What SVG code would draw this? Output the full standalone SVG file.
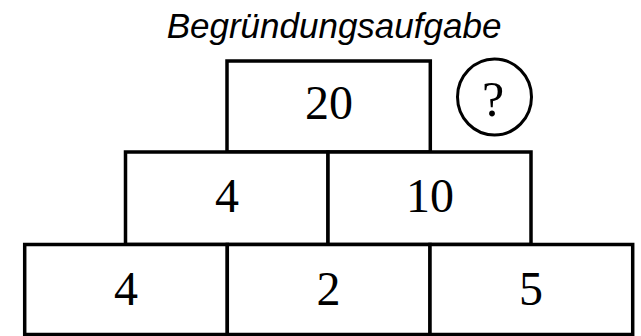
<svg xmlns="http://www.w3.org/2000/svg" width="641" height="336" viewBox="0 0 641 336">
<style>
.box{fill:#fff;stroke:#000;stroke-width:3.5}
.num{font-family:"Liberation Serif","Times New Roman",serif;font-size:48px;text-anchor:middle;fill:#000}
.title{font-family:"Liberation Sans",Arial,sans-serif;font-size:35px;font-style:italic;text-anchor:middle;fill:#000}
</style>
<rect width="641" height="336" fill="#fff"/>
<text class="title" x="334" y="38">Begründungsaufgabe</text>
<g id="top"><rect class="box" x="227" y="61" width="203.3" height="91"/><text class="num" x="329" y="119">20</text></g>
<g id="mid-left"><rect class="box" x="125.5" y="152" width="202.5" height="92.5"/><text class="num" x="227" y="212">4</text></g>
<g id="mid-right"><rect class="box" x="328" y="152" width="203" height="92.5"/><text class="num" x="430" y="212">10</text></g>
<g id="bot-left"><rect class="box" x="24.7" y="244.5" width="202.6" height="90"/><text class="num" x="126" y="305">4</text></g>
<g id="bot-mid"><rect class="box" x="227.3" y="244.5" width="202.7" height="90"/><text class="num" x="328.5" y="305">2</text></g>
<g id="bot-right"><rect class="box" x="430" y="244.5" width="202.7" height="90"/><text class="num" x="531" y="305">5</text></g>
<g id="question"><ellipse cx="494.5" cy="97" rx="37" ry="38" fill="#fff" stroke="#000" stroke-width="3"/><text class="num" x="493" y="116" style="font-size:50px">?</text></g>
<g id="connectors"></g>
</svg>
